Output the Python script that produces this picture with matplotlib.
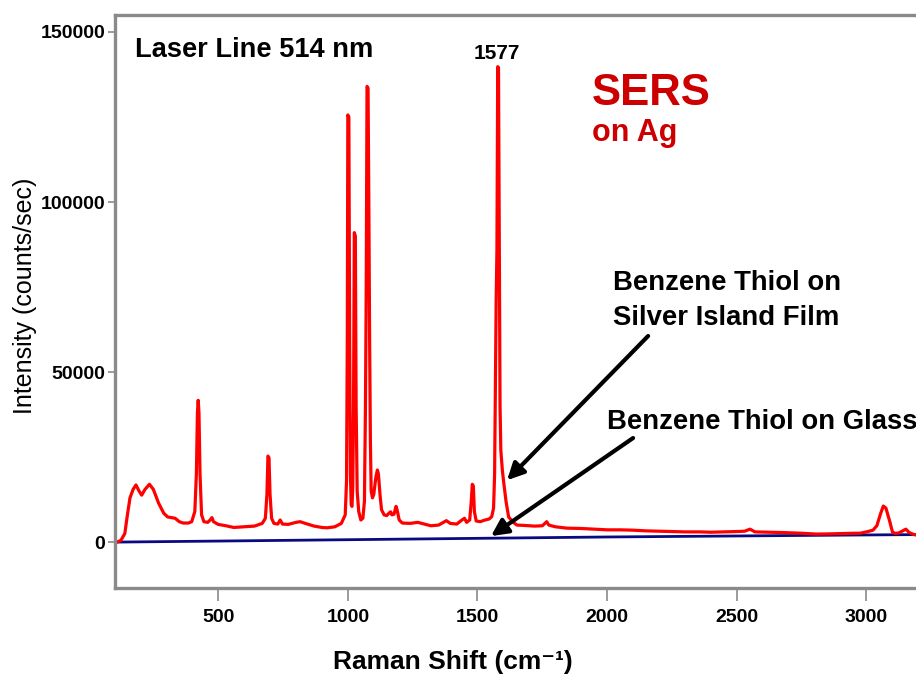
import matplotlib
matplotlib.use("Agg")
import matplotlib.pyplot as plt

# -----------------------------------------
#   DONNEES
# -----------------------------------------
shift_ag = [110, 125, 140, 150, 160, 172, 183, 195, 205, 218, 235, 250, 270, 290, 305,
            320, 334, 350, 365, 385, 398, 410, 416, 420, 423, 426, 430, 436, 445, 460,
            470, 476, 482, 500, 530, 560, 600, 640, 670, 682, 688, 692, 696, 700, 706,
            715, 730, 739, 748, 770, 800, 816, 840, 870, 900, 920, 950, 975, 990, 995,
            998, 1000, 1004, 1007, 1010, 1013, 1016, 1019, 1022, 1025, 1029, 1032, 1036,
            1042, 1050, 1058, 1064, 1068, 1071, 1074, 1078, 1081, 1084, 1087, 1090, 1095,
            1100, 1108, 1114, 1118, 1124, 1130, 1140, 1150, 1160, 1165, 1170, 1178, 1186,
            1190, 1198, 1210, 1240, 1270, 1290, 1320, 1350, 1380, 1395, 1420, 1440, 1450,
            1458, 1470, 1476, 1480, 1484, 1488, 1495, 1510, 1530, 1545, 1555, 1562, 1566,
            1569, 1572, 1575, 1578, 1581, 1584, 1587, 1590, 1596, 1602, 1610, 1620, 1635,
            1652, 1680, 1720, 1750, 1767, 1775, 1800, 1844, 1900, 1950, 2000, 2050, 2100,
            2150, 2200, 2250, 2300, 2358, 2400, 2450, 2500, 2530, 2551, 2570, 2620, 2680,
            2750, 2808, 2850, 2900, 2950, 2975, 3000, 3025, 3040, 3055, 3065, 3075, 3090,
            3100, 3110, 3125, 3140, 3152, 3165, 3180, 3195]
inten_ag = [0, 500, 2500, 8000, 13000, 15500, 16800, 15000, 13800, 15500, 17000, 15500, 11500,
            8500, 7400, 7200, 7000, 6000, 5600, 5600, 6000, 9000, 20000, 38000, 41700, 38000,
            20000, 8000, 6000, 5800, 6600, 7200, 6000, 5200, 4800, 4300, 4500, 4700, 5500,
            7000, 14000, 25300, 24800, 14000, 7000, 5500, 5300, 6500, 5300, 5200, 5800, 6000,
            5400, 4700, 4300, 4200, 4500, 5500, 8000, 18000, 60000, 125600, 125000, 60000,
            20000, 11000, 10500, 16000, 40000, 91000, 90000, 40000, 15000, 9000, 6500, 7000,
            12000, 40000, 75000, 134000, 133500, 100000, 60000, 30000, 15000, 13000, 14000,
            19000, 21200, 20000, 14000, 9500, 8000, 7800, 8600, 8900, 8000, 8200, 10500, 9500,
            6500, 5600, 5500, 5800, 5400, 4800, 5000, 6300, 5500, 5300, 6500, 7000, 5800,
            6500, 12000, 17000, 16500, 9000, 6200, 6000, 6500, 6800, 7500, 10000, 20000,
            45000, 71000, 86000, 139800, 139500, 88000, 40000, 27000, 21000, 17000, 12000,
            7400, 6000, 5000, 4900, 4700, 4800, 6000, 5000, 4500, 4100, 4000, 3800, 3600,
            3600, 3500, 3300, 3200, 3100, 3000, 3000, 2900, 3000, 3100, 3200, 3800, 3000,
            2900, 2800, 2600, 2350, 2400, 2500, 2600, 2600, 3000, 3500, 4800, 8500, 10600,
            10000, 6000, 3000, 2550, 2700, 3300, 3800, 2800, 2300, 2000]

shift_glass = [110, 500, 1000, 1500, 2000, 2500, 3000, 3195]
inten_glass = [0, 300, 700, 1100, 1500, 1800, 2100, 2200]

X_TICKS = [500, 1000, 1500, 2000, 2500, 3000]
Y_TICKS = [0, 50000, 100000, 150000]

# -----------------------------------------
#   FIGURE
# -----------------------------------------
BOLD_FONT = ['Liberation Sans', 'DejaVu Sans']
NARROW_FONT = ['Liberation Sans Narrow', 'Liberation Sans', 'DejaVu Sans']
GREY = '#8a8a8a'

fig = plt.figure(figsize=(9.16, 6.75), dpi=100)
ax = fig.add_axes([0.1255, 0.1289, 0.8745, 0.8489])

ax.plot(shift_glass, inten_glass, color='#0a0a80', linewidth=2.0)
ax.plot(shift_ag, inten_ag, color='#ff0000', linewidth=2.3)

ax.set_xlim(102, 3191)
ax.set_ylim(-13500, 155000)

for side in ['left', 'top', 'bottom']:
    ax.spines[side].set_color(GREY)
    ax.spines[side].set_linewidth(2.4)
ax.spines['right'].set_visible(False)

ax.set_xticks(X_TICKS)
ax.set_yticks(Y_TICKS)
ax.tick_params(axis='x', direction='out', length=9, width=1.2, color=GREY, pad=6)
ax.tick_params(axis='y', direction='out', length=5, width=1.2, color=GREY, pad=2)
for lab in ax.get_xticklabels() + ax.get_yticklabels():
    lab.set_family(NARROW_FONT)
    lab.set_fontsize(14)
    lab.set_fontweight('bold')

ax.set_ylabel("Intensity (counts/sec)", family=BOLD_FONT, fontsize=18)
ax.yaxis.set_label_coords(-0.097, 0.51)
ax.set_xlabel("Raman Shift (cm\u207b\u00b9)", family=BOLD_FONT, fontsize=19,
              fontweight='bold')
ax.xaxis.set_label_coords(0.422, -0.108)

# textes
ax.text(181, 144700, "Laser Line 514 nm", family=BOLD_FONT, fontsize=19.6,
        fontweight='bold', va='center', ha='left')
ax.text(1576, 143800, "1577", family=BOLD_FONT, fontsize=15, fontweight='bold',
        va='center', ha='center')
ax.text(1942, 132000, "SERS", family=BOLD_FONT, fontsize=31.5, fontweight='bold',
        color='#cc0000', va='center', ha='left')
ax.text(1942, 120300, "on Ag", family=BOLD_FONT, fontsize=22, fontweight='bold',
        color='#cc0000', va='center', ha='left')
ax.text(2023, 76200, "Benzene Thiol on", family=BOLD_FONT, fontsize=19.8,
        fontweight='bold', va='center', ha='left')
ax.text(2023, 65900, "Silver Island Film", family=BOLD_FONT, fontsize=19.8,
        fontweight='bold', va='center', ha='left')
ax.text(2000, 35300, "Benzene Thiol on Glass", family=BOLD_FONT, fontsize=19.8,
        fontweight='bold', va='center', ha='left', clip_on=False)

# fleches
arrow_style = dict(arrowstyle='-|>', color='black', lw=3, mutation_scale=25,
                   shrinkA=0, shrinkB=0)
ax.annotate("", xy=(1614, 18200), xytext=(2158, 60600), arrowprops=arrow_style)
ax.annotate("", xy=(1552, 1760), xytext=(2100, 30600), arrowprops=arrow_style)

plt.savefig("out.png", dpi=100)
plt.close()
